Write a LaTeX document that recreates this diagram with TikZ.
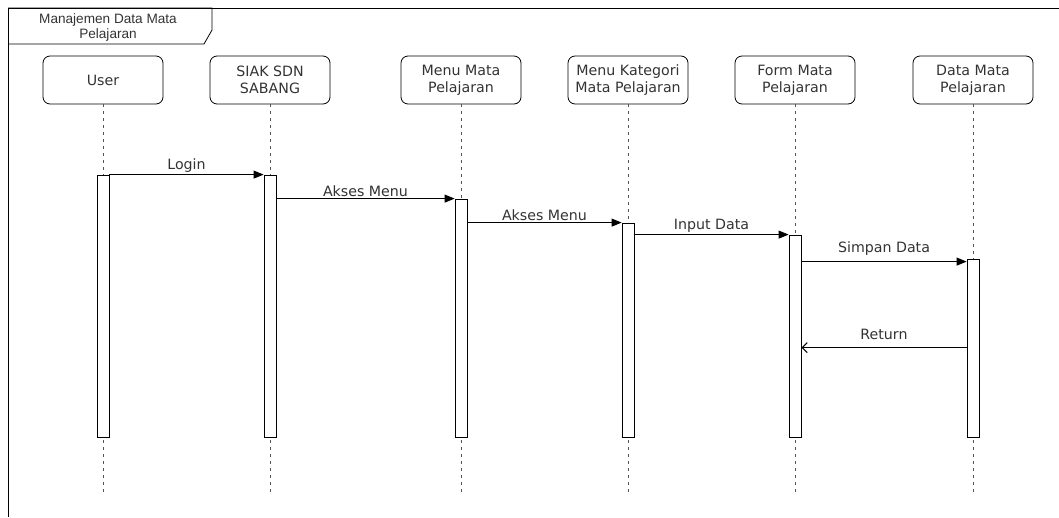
\documentclass[tikz,border=0pt]{standalone}
\usepackage{fontspec}
\setmainfont{DejaVu Sans}
\newfontfamily\framefont{Liberation Sans}
\usetikzlibrary{arrows.meta}
\definecolor{txtgray}{HTML}{333333}
\definecolor{linegray}{HTML}{555555}
\begin{document}
\begin{tikzpicture}[x=1pt, y=-1pt]
        \tikzstyle{actor}=[draw, rectangle, rounded corners=7pt, minimum width=120pt, minimum height=48pt, align=center, text=txtgray, font=\fontsize{14.2}{17}\selectfont, line width=0.8pt]
        \tikzstyle{bar}=[draw, rectangle, fill=white, minimum width=12pt, inner sep=0pt, line width=0.8pt]
        \tikzstyle{life}=[draw=linegray, dash pattern=on 3pt off 4pt, line width=0.8pt]
        \tikzstyle{msg}=[-{Triangle[length=10pt, width=8pt]}, line width=0.8pt]
        \tikzstyle{ret}=[-{Straight Barb[length=5pt, width=10pt, line width=1.1pt]}, line width=0.6pt]
        \tikzstyle{lbl}=[above, inner sep=2pt, text=txtgray, font=\fontsize{14.2}{17}\selectfont]
        \useasboundingbox (0,0) rectangle (1059,517);

        % frame
        \draw[line width=1pt] (1059,8) -- (8,8) -- (8,517);
        \draw[line width=0.8pt] (8,8) -- (212,8) -- (212,30) -- (204,44) -- (8,44);
        \node[align=center, text=txtgray, font=\framefont\fontsize{13.6}{15}\selectfont] (title) at (108,27) {Manajemen Data Mata\\Pelajaran};

        \node[actor] (user) at (103,80) {User};
        \node[actor] (siak) at (270,80) {SIAK SDN\\SABANG};
        \node[actor] (menumapel) at (461,80) {Menu Mata\\Pelajaran};
        \node[actor] (menukat) at (628,80) {Menu Kategori\\Mata Pelajaran};
        \node[actor] (formmapel) at (795,80) {Form Mata\\Pelajaran};
        \node[actor] (datamapel) at (973,80) {Data Mata\\Pelajaran};

        \foreach \p/\x in {user/103, siak/270, menumapel/461, menukat/628, formmapel/795, datamapel/973} {
            \coordinate (\p-end) at (\x,495);
            \draw[life] (\p.south) -- (\p-end);
        }

        \node[bar, minimum height=262pt] (userbar) at (103,306) {};
        \node[bar, minimum height=262pt] (siakbar) at (270,306) {};
        \node[bar, minimum height=238pt] (menumapelbar) at (461,318) {};
        \node[bar, minimum height=214pt] (menukatbar) at (628,330) {};
        \node[bar, minimum height=202pt] (formmapelbar) at (795,336) {};
        \node[bar, minimum height=178pt] (datamapelbar) at (973,348) {};

        \draw[msg] (userbar.north east) -- node[lbl]{Login} (siakbar.north west);
        \draw[msg] (menumapelbar.north west -| siakbar.east) -- node[lbl]{Akses Menu} (menumapelbar.north west);
        \draw[msg] (menukatbar.north west -| menumapelbar.east) -- node[lbl]{Akses Menu} (menukatbar.north west);
        \draw[msg] (formmapelbar.north west -| menukatbar.east) -- node[lbl]{Input Data} (formmapelbar.north west);
        \draw[msg] ([yshift=-3pt]datamapelbar.north west -| formmapelbar.east) -- node[lbl, yshift=4pt]{Simpan Data} ([yshift=-3pt]datamapelbar.north west);
        \draw[ret] ([yshift=-89pt]datamapelbar.north west) -- node[lbl, yshift=6pt]{Return} ([yshift=-89pt]datamapelbar.north west -| formmapelbar.east);
    \end{tikzpicture}
\end{document}
